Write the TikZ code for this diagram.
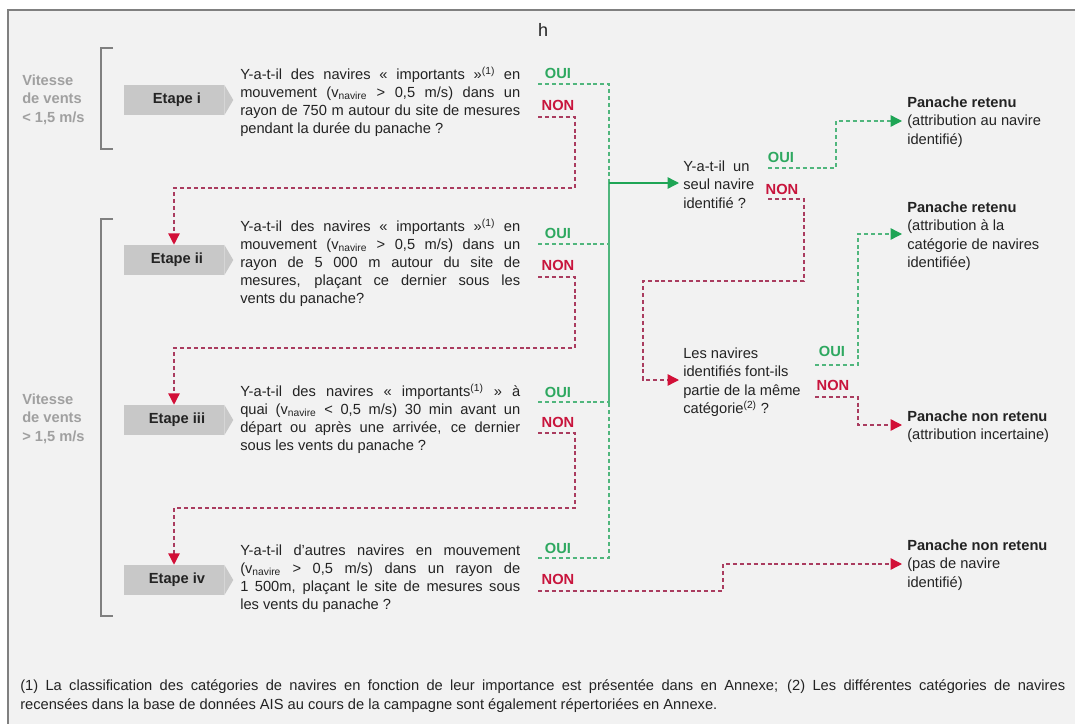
\documentclass[tikz,border=0pt]{standalone}
\usepackage{fontspec}
\setmainfont{Liberation Sans}
\usetikzlibrary{arrows.meta,calc}
\definecolor{bg}{RGB}{242,242,242}
\definecolor{framec}{RGB}{128,128,128}
\definecolor{ouic}{RGB}{46,168,96}
\definecolor{glinec}{RGB}{80,182,125}
\definecolor{gsolid}{RGB}{30,165,85}
\definecolor{nonc}{RGB}{200,20,60}
\definecolor{rlinec}{RGB}{170,60,95}
\definecolor{rhead}{RGB}{210,15,55}
\definecolor{vitc}{RGB}{160,160,160}
\definecolor{etfill}{RGB}{200,200,200}
\definecolor{txt}{RGB}{35,35,35}
\newcommand\ql[1]{\hbox to 210pt{#1}}
\newcommand\qe[1]{\hbox{#1}}
\begin{document}
\begin{tikzpicture}[x=0.75pt,y=-0.75pt,
  qtext/.style={anchor=base west, inner sep=0pt, text=txt, font=\fontsize{11}{13.5}\selectfont},
  rtext/.style={anchor=base west, inner sep=0pt, text=txt, font=\fontsize{11}{13.75}\selectfont},
  lab/.style={font=\bfseries\fontsize{11}{13}\selectfont, inner sep=0pt},
  oui/.style={lab, text=ouic},
  non/.style={lab, text=nonc},
  vit/.style={anchor=base west, inner sep=0pt, text=vitc, font=\bfseries\fontsize{11}{13.9}\selectfont},
  etape/.style={fill=etfill, minimum width=75pt, minimum height=22.5pt, inner sep=0pt, text=txt, font=\bfseries\fontsize{11}{13}\selectfont},
  brk/.style={draw=framec, line width=1.5pt},
  gdash/.style={draw=glinec, line width=1pt, dash pattern=on 3pt off 2.2pt},
  rdash/.style={draw=rlinec, line width=1pt, dash pattern=on 3pt off 2.2pt},
  gtip/.style={-{Triangle[length=8.5pt,width=8.5pt,color=gsolid]}},
  rtip/.style={-{Triangle[length=8.5pt,width=8.5pt,color=rhead]}}
]
\useasboundingbox (0,0) rectangle (1075,724);
\fill[white] (0,0) rectangle (1075,724);
\fill[bg] (8,10) rectangle (1075,724);
\draw[draw=framec, line width=2pt] (8,724) -- (8,10) -- (1075,10);

\node[inner sep=0pt, text=txt, font=\fontsize{13.5}{15}\selectfont] (h) at (543,30) {h};

% speed groups
\node[vit] (v1) at (22,85.3) {\vtop{\hbox{Vitesse}\hbox{de vents}\hbox{< 1,5 m/s}}};
\node[vit] (v2) at (22,404.3) {\vtop{\hbox{Vitesse}\hbox{de vents}\hbox{> 1,5 m/s}}};
\draw[brk] (113,48) -- (101,48) -- (101,149) -- (113,149);
\draw[brk] (113,219) -- (101,219) -- (101,616) -- (113,616);

% etape boxes
\node[etape] (e1) at (174,100) {\hspace*{4.5pt}Etape i};
\node[etape] (e2) at (174,260) {\hspace*{4.5pt}Etape ii};
\node[etape] (e3) at (174,420) {\hspace*{4.5pt}Etape iii};
\node[etape] (e4) at (174,580) {\hspace*{4.5pt}Etape iv};
\foreach \n in {e1,e2,e3,e4}
  \fill[etfill] (\n.north east) -- ($(\n.east)+(9,0)$) -- (\n.south east) -- cycle;

% questions
\node[qtext] (q1) at (240,79.5) {\vtop{%
\ql{Y-a-t-il des navires « importants »\textsuperscript{(1)} en}%
\ql{mouvement (v\textsubscript{navire} > 0,5 m/s) dans un}%
\ql{rayon de 750 m autour du site de mesures}%
\qe{pendant la durée du panache ?}}};
\node[qtext] (q2) at (240,231.3) {\vtop{%
\ql{Y-a-t-il des navires « importants »\textsuperscript{(1)} en}%
\ql{mouvement (v\textsubscript{navire} > 0,5 m/s) dans un}%
\ql{rayon de 5 000 m autour du site de}%
\ql{mesures, plaçant ce dernier sous les}%
\qe{vents du panache?}}};
\node[qtext] (q3) at (240,396.3) {\vtop{%
\ql{Y-a-t-il des navires « importants\textsuperscript{(1)} » à}%
\ql{quai (v\textsubscript{navire} < 0,5 m/s) 30 min avant un}%
\ql{départ ou après une arrivée, ce dernier}%
\qe{sous les vents du panache ?}}};
\node[qtext] (q4) at (240,555.3) {\vtop{%
\ql{Y-a-t-il d’autres navires en mouvement}%
\ql{(v\textsubscript{navire} > 0,5 m/s) dans un rayon de}%
\ql{1 500m, plaçant le site de mesures sous}%
\qe{les vents du panache ?}}};

% OUI / NON labels
\node[oui] (oui1) at (558,73) {OUI};
\node[non] (non1) at (558,105) {NON};
\node[oui] (oui2) at (558,233) {OUI};
\node[non] (non2) at (558,265) {NON};
\node[oui] (oui3) at (558,392) {OUI};
\node[non] (non3) at (558,422) {NON};
\node[oui] (oui4) at (558,548) {OUI};
\node[non] (non4) at (558,579) {NON};

% right questions
\node[rtext] (qa) at (683,171.5) {\vtop{\hbox{Y-a-t-il\ \ un}\hbox{seul navire}\hbox{identifié ?}}};
\node[rtext] (qb) at (683,358.5) {\vtop{\hbox{Les navires}\hbox{identifiés font-ils}\hbox{partie de la même}\hbox{catégorie\textsuperscript{(2)} ?}}};
\node[oui] (ouiA) at (781,157) {OUI};
\node[non] (nonA) at (782,189) {NON};
\node[oui] (ouiB) at (832,351) {OUI};
\node[non] (nonB) at (833,385) {NON};

% outcomes
\node[rtext] (r1) at (907,107.5) {\vtop{\hbox{\textbf{Panache retenu}}\hbox{(attribution au navire}\hbox{identifié)}}};
\node[rtext] (r2) at (907,212.5) {\vtop{\hbox{\textbf{Panache retenu}}\hbox{(attribution à la}\hbox{catégorie de navires}\hbox{identifiée)}}};
\node[rtext] (r3) at (907,421.5) {\vtop{\hbox{\textbf{Panache non retenu}}\hbox{(attribution incertaine)}}};
\node[rtext] (r4) at (907,550.5) {\vtop{\hbox{\textbf{Panache non retenu}}\hbox{(pas de navire}\hbox{identifié)}}};

% footer
\node[anchor=base west, inner sep=0pt, text=txt, font=\fontsize{11}{14.5}\selectfont] (foot) at (20,690) {\vtop{%
\hbox to 783.75pt{(1) La classification des catégories de navires en fonction de leur importance est présentée dans en Annexe; (2) Les différentes catégories de navires}%
\hbox{recensées dans la base de données AIS au cours de la campagne sont également répertoriées en Annexe.}}};

% connector coordinates
\coordinate (go1) at (538,84);
\coordinate (go2) at (538,244);
\coordinate (go3) at (538,402);
\coordinate (go4) at (538,558);
\coordinate (jn) at (609,183);
\coordinate (rn1) at (538,117);
\coordinate (rn2) at (538,277);
\coordinate (rn3) at (538,433);
\coordinate (rn4) at (538,591);
\coordinate (rc1) at (575,188);
\coordinate (rc2) at (575,348);
\coordinate (rc3) at (575,508);
\coordinate (rc4) at (723,564);
\coordinate (ga) at (768,168);
\coordinate (ka) at (836,121);
\coordinate (na) at (768,199);
\coordinate (kb) at (804,281);
\coordinate (kc) at (643,380);
\coordinate (gb) at (815,365);
\coordinate (kd) at (858,234);
\coordinate (nb) at (815,397);
\coordinate (ke) at (858,425);
\coordinate (t1) at (902,121);
\coordinate (t2) at (902,234);
\coordinate (t3) at (902,425);
\coordinate (t4) at (902,564);

% green OUI links to the single-ship question
\draw[gdash] (go1) -| (jn);
\draw[gdash] (go2) -| (jn);
\draw[gdash] (go3) -| (jn);
\draw[gdash] (go4) -| (jn);
\draw[draw=gsolid, line width=1pt, gtip, shorten >=3pt] (jn) -- (jn -| qa.west);

% red NON chain
\draw[rdash, rtip] (rn1) -| (rc1) -| (e2.north);
\draw[rdash, rtip] (rn2) -| (rc2) -| (e3.north);
\draw[rdash, rtip] (rn3) -| (rc3) -| (e4.north);
\draw[rdash, rtip] (rn4) -| (rc4) -- (t4);

% right side
\draw[gdash, gtip] (ga) -| (ka) -- (t1);
\draw[rdash, rtip, shorten >=3pt] (na) -| (kb) -| (kc) -- (kc -| qb.west);
\draw[gdash, gtip] (gb) -| (kd) -- (t2);
\draw[rdash, rtip] (nb) -| (ke) -- (t3);
\end{tikzpicture}
\end{document}
